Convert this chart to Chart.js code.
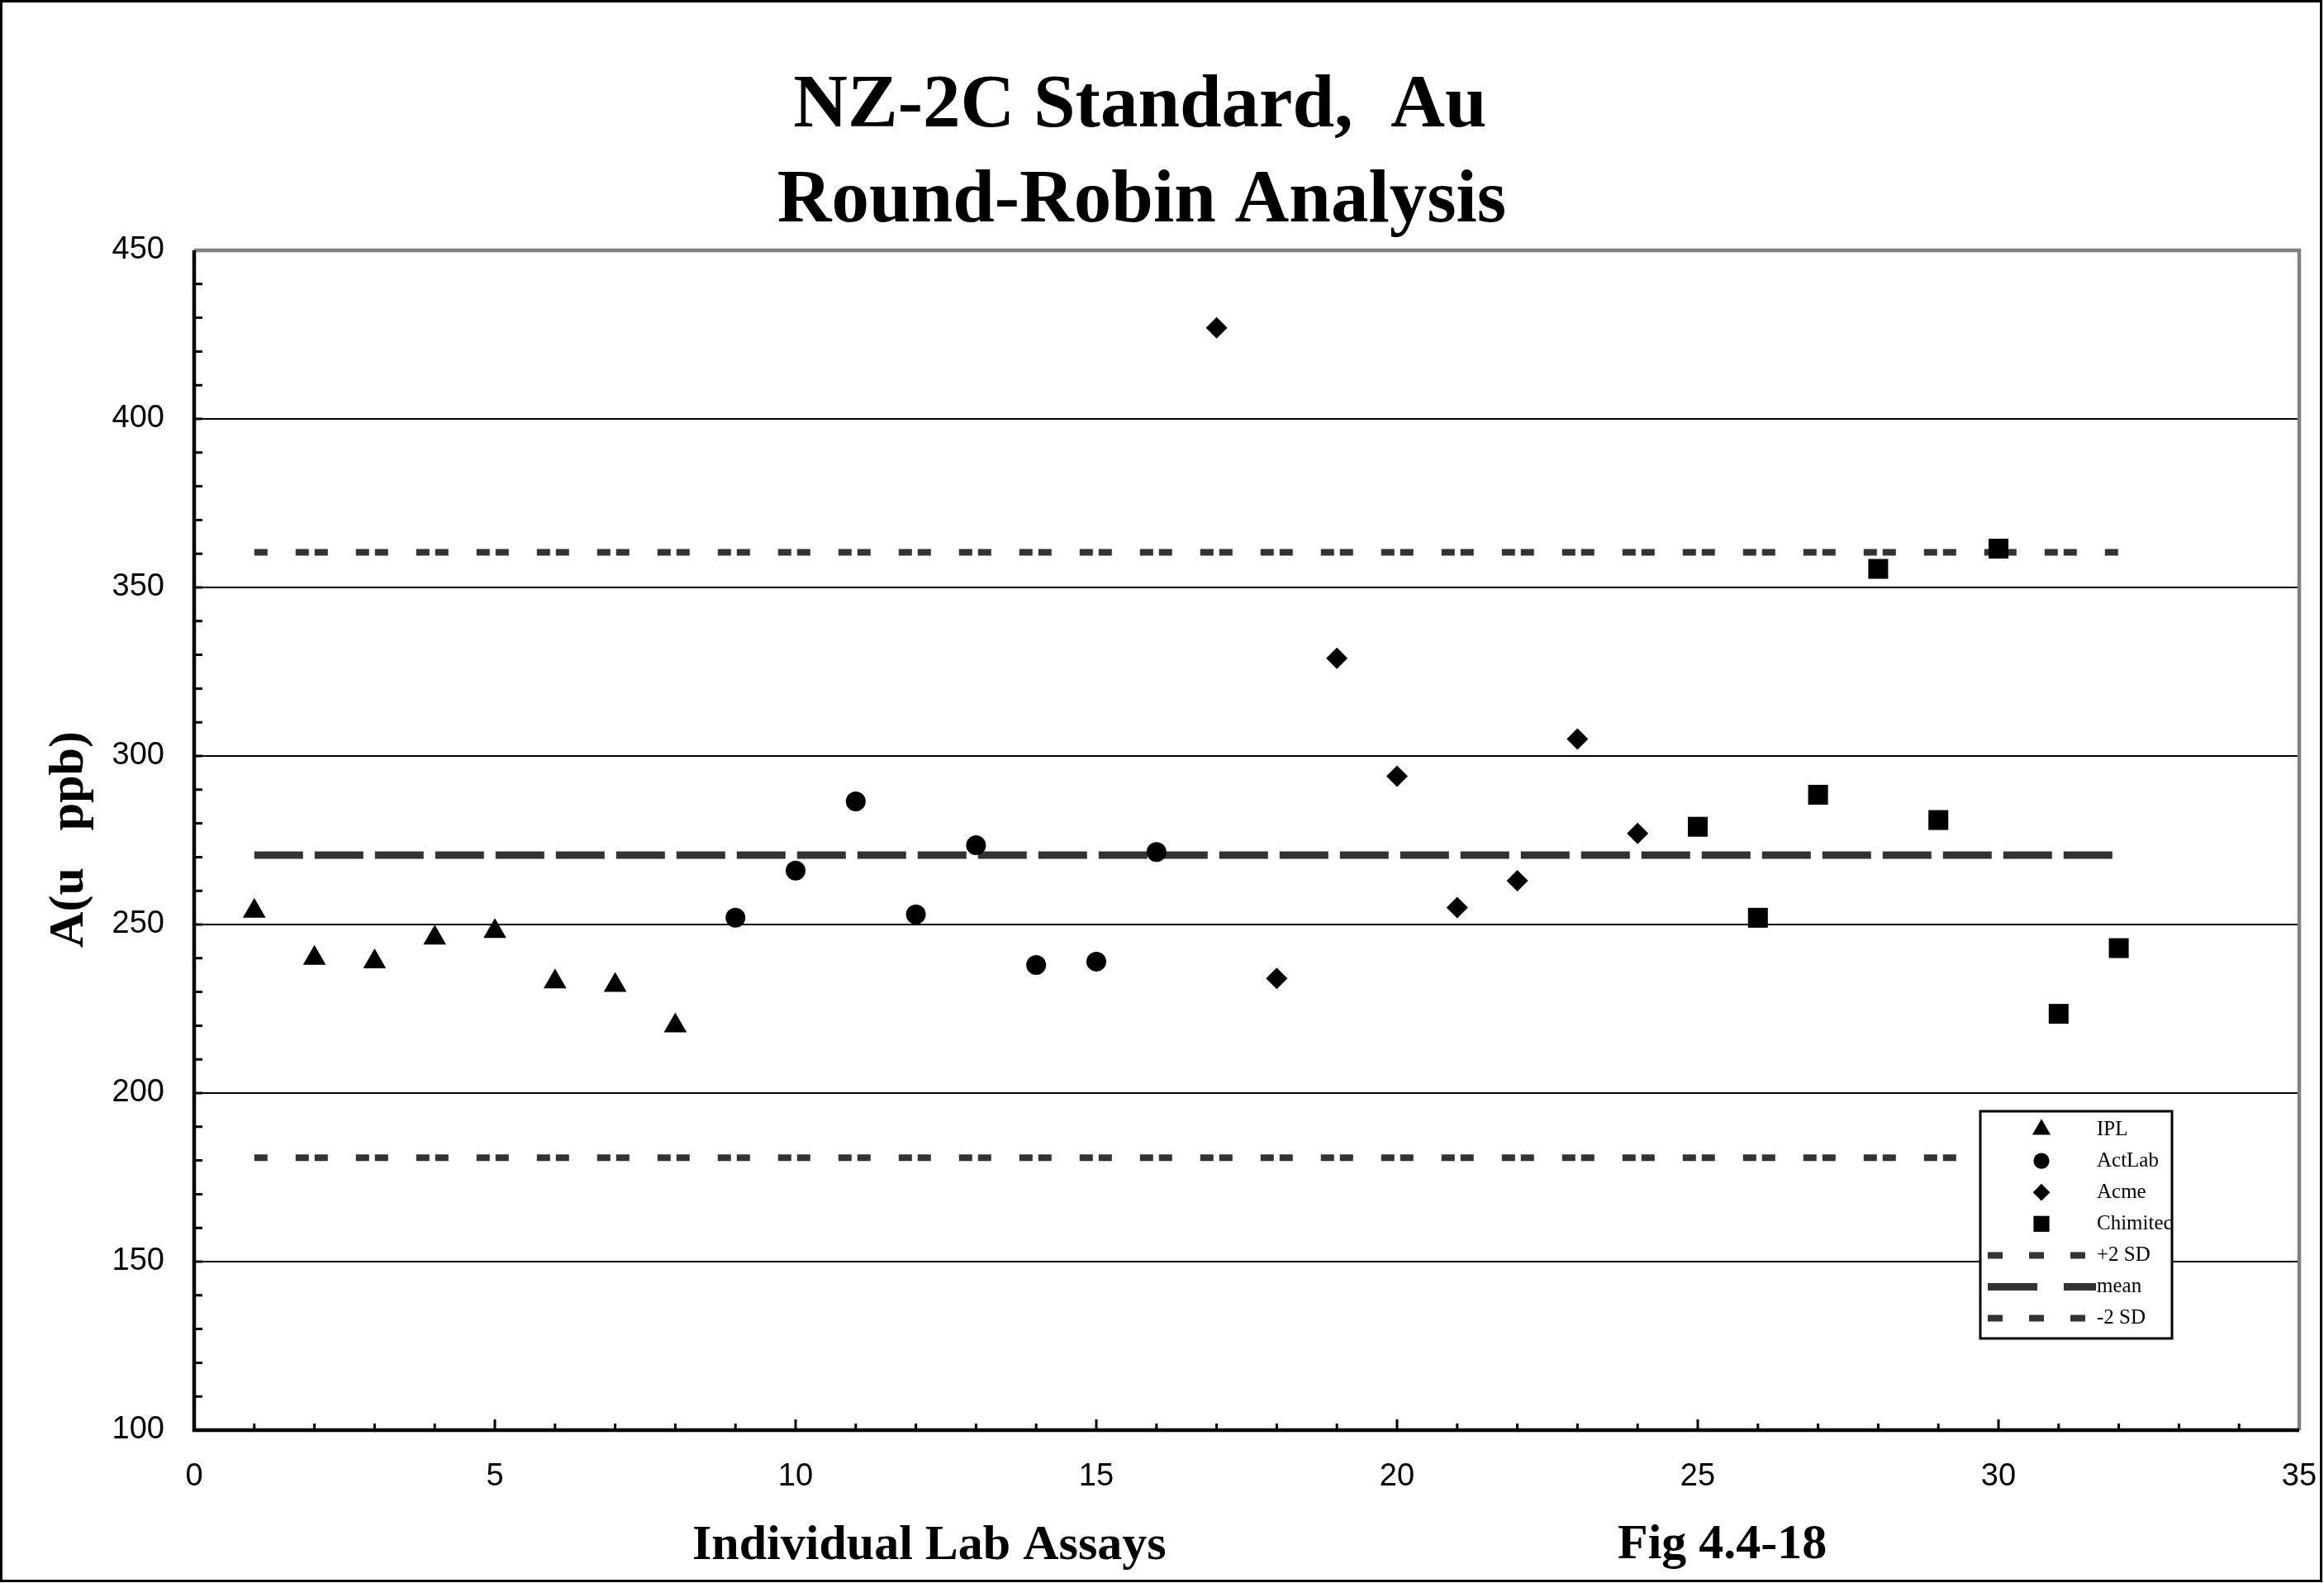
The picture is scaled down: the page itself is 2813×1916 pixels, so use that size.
<!DOCTYPE html>
<html>
<head>
<meta charset="utf-8">
<title>NZ-2C Standard, Au Round-Robin Analysis</title>
<script src="https://cdn.jsdelivr.net/npm/chart.js@4.4.1/dist/chart.umd.min.js"></script>
<style>
html, body { margin: 0; padding: 0; background: #fff; }
canvas { display: block; }
</style>
</head>
<body>
<canvas id="auChart" width="2813" height="1916"></canvas>
<script>
// assay number (x) and Au in ppb (y) for each lab
const iplAssay = [1, 2, 3, 4, 5, 6, 7, 8];
const iplAu = [254, 240, 239, 246, 248, 233, 232, 220];
const actlabAssay = [9, 10, 11, 12, 13, 14, 15, 16];
const actlabAu = [252, 266, 286.5, 253, 273.5, 238, 239, 271.5];
const acmeAssay = [17, 18, 19, 20, 21, 22, 23, 24];
const acmeAu = [427, 234, 329, 294, 255, 263, 305, 277];
const chimitecAssay = [25, 26, 27, 28, 29, 30, 31, 32];
const chimitecAu = [279, 252, 288.5, 355.5, 281, 361.5, 223.5, 243];

// reference lines
const refLineX = [1, 32];
const meanAu = 270.6;
const plus2sd = 360.4;
const minus2sd = 180.8;

// tick labels
const xTickValues = [0, 5, 10, 15, 20, 25, 30, 35];
const yTickValues = [100, 150, 200, 250, 300, 350, 400, 450];

const serif = '"Liberation Serif", "Times New Roman", serif';
const sans = '"Liberation Sans", Arial, sans-serif';

function pts(xs, ys) {
    return xs.map((x, i) => ({ x: x, y: ys[i] }));
}
function flat(v) {
    return refLineX.map(x => ({ x: x, y: v }));
}

/* white page, axis frame, titles and the boxed legend */
const pagePlugin = {
    id: 'page',
    beforeDraw(chart) {
        const ctx = chart.ctx;
        ctx.save();
        ctx.fillStyle = '#fff';
        ctx.fillRect(0, 0, chart.width, chart.height);
        ctx.restore();
    },
    afterDatasetsDraw(chart) {
        const ctx = chart.ctx;
        const a = chart.chartArea;
        const xs = chart.scales.x, ys = chart.scales.y;
        ctx.save();
        ctx.lineCap = 'butt';
        ctx.strokeStyle = '#000';
        ctx.lineWidth = 3;
        ctx.beginPath();
        for (let v = ys.min; v <= ys.max; v += 10) {
            const y = ys.getPixelForValue(v);
            ctx.moveTo(a.left, y);
            ctx.lineTo(a.left + 10, y);
        }
        for (let v = xs.min; v <= xs.max; v += 1) {
            const x = xs.getPixelForValue(v);
            ctx.moveTo(x, a.bottom);
            ctx.lineTo(x, a.bottom - (v % 5 === 0 ? 13 : 8));
        }
        ctx.stroke();

        ctx.lineWidth = 4.5;
        ctx.strokeStyle = '#808080';
        ctx.beginPath();
        ctx.moveTo(a.left, a.top);
        ctx.lineTo(a.right, a.top);
        ctx.lineTo(a.right, a.bottom);
        ctx.stroke();

        ctx.strokeStyle = '#000';
        ctx.beginPath();
        ctx.moveTo(a.left, a.top);
        ctx.lineTo(a.left, a.bottom);
        ctx.lineTo(a.right, a.bottom);
        ctx.stroke();
        ctx.restore();
    },
    afterDraw(chart) {
        const ctx = chart.ctx;
        ctx.save();
        ctx.fillStyle = '#000';

        // title
        ctx.font = 'bold 91px ' + serif;
        ctx.textAlign = 'center';
        ctx.textBaseline = 'alphabetic';
        ctx.fillText('NZ-2C Standard,  Au', 1380, 153);
        ctx.fillText('Round-Robin Analysis', 1382, 268);

        // axis titles
        ctx.font = 'bold 60px ' + serif;
        ctx.textAlign = 'left';
        ctx.fillText('Individual Lab Assays', 838, 1887);
        ctx.fillText('Fig 4.4-18', 1958, 1886);

        ctx.save();
        ctx.translate(100, 1016);
        ctx.rotate(-Math.PI / 2);
        ctx.textAlign = 'center';
        ctx.fillText('A(u   ppb)', 0, 0);
        ctx.restore();

        // legend box
        const box = { x: 2397, y: 1345, w: 232, h: 275 };
        ctx.fillStyle = '#fff';
        ctx.fillRect(box.x, box.y, box.w, box.h);
        ctx.save();
        ctx.beginPath();
        ctx.rect(box.x, box.y, box.w, box.h);
        ctx.clip();
        chart.data.datasets.forEach((ds, i) => {
            const y = 1367 + i * 38.1;
            if (ds.showLine) {
                ctx.strokeStyle = ds.borderColor;
                ctx.lineWidth = ds.borderWidth;
                ctx.setLineDash(ds.legendDash);
                ctx.beginPath();
                ctx.moveTo(2406, y);
                ctx.lineTo(2537, y);
                ctx.stroke();
                ctx.setLineDash([]);
            } else {
                ctx.fillStyle = '#000';
                ctx.strokeStyle = '#000';
                Chart.helpers.drawPoint(ctx, {
                    pointStyle: ds.pointStyle,
                    radius: ds.pointRadius * 0.8,
                    rotation: 0,
                    borderWidth: 0
                }, 2471, y);
            }
            ctx.fillStyle = '#000';
            ctx.font = '25px ' + serif;
            ctx.textAlign = 'left';
            ctx.textBaseline = 'middle';
            ctx.fillText(ds.label, 2538, y);
        });
        ctx.restore();
        ctx.strokeStyle = '#000';
        ctx.lineWidth = 3;
        ctx.strokeRect(box.x, box.y, box.w, box.h);

        // outer frame
        ctx.strokeRect(1.5, 1.5, 2808, 1912);
        ctx.restore();
    }
};

const markerBase = { backgroundColor: '#000', borderColor: '#000', pointBorderWidth: 0, showLine: false };
const lineBase = { borderColor: '#333333', pointRadius: 0, showLine: true, fill: false };

new Chart(document.getElementById('auChart'), {
    type: 'scatter',
    data: {
        datasets: [
            Object.assign({ label: 'IPL', data: pts(iplAssay, iplAu), pointStyle: 'triangle', pointRadius: 16 }, markerBase),
            Object.assign({ label: 'ActLab', data: pts(actlabAssay, actlabAu), pointStyle: 'circle', pointRadius: 12 }, markerBase),
            Object.assign({ label: 'Acme', data: pts(acmeAssay, acmeAu), pointStyle: 'rectRot', pointRadius: 13 }, markerBase),
            Object.assign({ label: 'Chimitec', data: pts(chimitecAssay, chimitecAu), pointStyle: 'rect', pointRadius: 17 }, markerBase),
            Object.assign({ label: '+2 SD', data: flat(plus2sd), borderWidth: 8, borderDash: [16, 34, 16, 7], legendDash: [18, 32] }, lineBase),
            Object.assign({ label: 'mean', data: flat(meanAu), borderWidth: 9, borderDash: [59, 14], legendDash: [60, 32] }, lineBase),
            Object.assign({ label: '-2 SD', data: flat(minus2sd), borderWidth: 8, borderDash: [16, 34, 16, 7], legendDash: [18, 32] }, lineBase)
        ]
    },
    options: {
        responsive: false,
        animation: false,
        devicePixelRatio: 1,
        layout: { padding: { top: 303, right: 30, left: 0, bottom: 0 } },
        plugins: {
            legend: { display: false },
            title: { display: false },
            tooltip: { enabled: false }
        },
        scales: {
            x: {
                type: 'linear',
                min: 0,
                max: 35,
                afterFit(s) {
                    s.height = 185;
                    s.paddingLeft = 0;
                    s.paddingRight = 0;
                },
                afterBuildTicks(s) { s.ticks = xTickValues.map(v => ({ value: v })); },
                grid: { display: false, drawTicks: false },
                border: { display: false },
                ticks: { padding: 34, color: '#000', font: { family: sans, size: 38 }, maxRotation: 0, autoSkip: false }
            },
            y: {
                type: 'linear',
                min: 100,
                max: 450,
                afterFit(s) {
                    s.width = 235;
                    s.paddingTop = 0;
                    s.paddingBottom = 0;
                },
                afterBuildTicks(s) { s.ticks = yTickValues.map(v => ({ value: v })); },
                grid: {
                    color: c => (c.tick && (c.tick.value === 100 || c.tick.value === 450)) ? 'rgba(0,0,0,0)' : '#000',
                    lineWidth: 2,
                    drawTicks: false
                },
                border: { display: false },
                ticks: { padding: 36, color: '#000', font: { family: sans, size: 38 }, autoSkip: false }
            }
        }
    },
    plugins: [pagePlugin]
});
</script>
</body>
</html>
